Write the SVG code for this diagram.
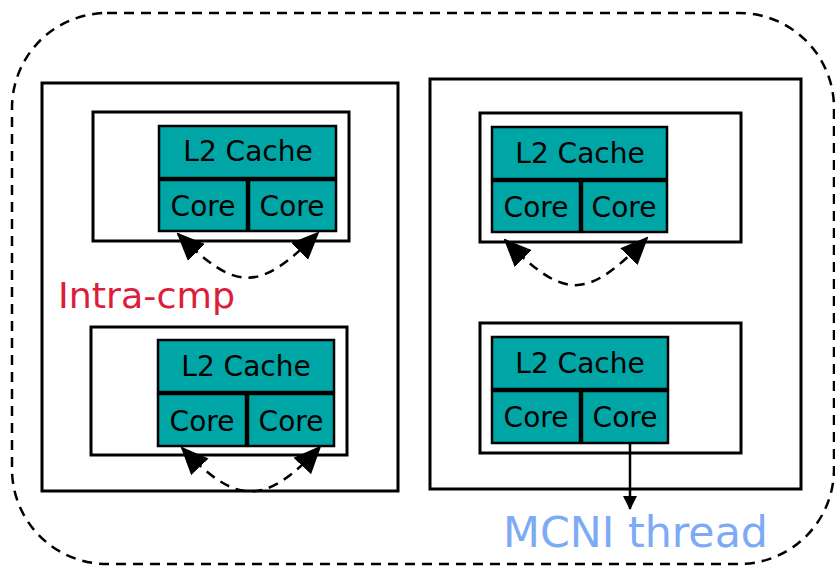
<svg xmlns="http://www.w3.org/2000/svg" width="835" height="566" viewBox="0 0 835 566">
<defs>
<style>
.box{fill:#fff;stroke:#000;stroke-width:3}
.cell{fill:#00a6a6;stroke:#000;stroke-width:2.5}
.lbl{font-family:"DejaVu Sans","Liberation Sans",sans-serif;font-size:28px;fill:#000;text-anchor:middle}
.dash{fill:none;stroke:#000;stroke-width:2.5;stroke-dasharray:10 7}
.conn{fill:none;stroke:#000;stroke-width:2.5}
</style>
<marker id="ah" markerUnits="userSpaceOnUse" markerWidth="28" markerHeight="24" viewBox="0 0 28 24" refX="26" refY="12" orient="auto-start-reverse">
<path d="M0,0 L28,12 L0,24 z" fill="#000"/>
</marker>
<marker id="ahs" markerUnits="userSpaceOnUse" markerWidth="14" markerHeight="14" viewBox="0 0 14 14" refX="13" refY="7" orient="auto">
<path d="M0,0 L14,7 L0,14 z" fill="#000"/>
</marker>
</defs>
<rect id="system" x="12" y="13" width="822" height="551" rx="95" ry="95" class="dash"/>
<g id="node-left">
<rect x="42" y="83" width="356" height="408" class="box"/>
</g>
<g id="node-right">
<rect x="430" y="79" width="371" height="410" class="box"/>
</g>
<g id="cmp-lt">
<rect x="93" y="112" width="256" height="129" class="box"/>
<rect x="159" y="126" width="177" height="52" class="cell"/>
<rect x="159" y="180" width="88" height="51" class="cell"/>
<rect x="249" y="180" width="87" height="51" class="cell"/>
<text x="248" y="161" class="lbl">L2 Cache</text>
<text x="203" y="216" class="lbl">Core</text>
<text x="292" y="216" class="lbl">Core</text>
</g>
<g id="cmp-lb">
<rect x="91" y="327" width="256" height="128" class="box"/>
<rect x="158" y="340" width="176" height="52" class="cell"/>
<rect x="158" y="394" width="88" height="52" class="cell"/>
<rect x="248" y="394" width="86" height="52" class="cell"/>
<text x="246" y="376" class="lbl">L2 Cache</text>
<text x="202" y="431" class="lbl">Core</text>
<text x="291" y="431" class="lbl">Core</text>
</g>
<g id="cmp-rt">
<rect x="480" y="113" width="261" height="129" class="box"/>
<rect x="492" y="127" width="175" height="52" class="cell"/>
<rect x="492" y="181" width="88" height="51" class="cell"/>
<rect x="582" y="181" width="85" height="51" class="cell"/>
<text x="580" y="163" class="lbl">L2 Cache</text>
<text x="536" y="217" class="lbl">Core</text>
<text x="624" y="217" class="lbl">Core</text>
</g>
<g id="cmp-rb">
<rect x="480" y="323" width="261" height="130" class="box"/>
<rect x="492" y="337" width="176" height="52" class="cell"/>
<rect x="492" y="391" width="88" height="52" class="cell"/>
<rect x="582" y="391" width="86" height="52" class="cell"/>
<text x="580" y="373" class="lbl">L2 Cache</text>
<text x="536" y="427" class="lbl">Core</text>
<text x="625" y="427" class="lbl">Core</text>
</g>
<g id="connectors">
<path d="M178,234 C237,293 259,292 318,233" class="dash" marker-start="url(#ah)" marker-end="url(#ah)"/>
<path d="M182,448 C237,506 265,506 320,447" class="dash" marker-start="url(#ah)" marker-end="url(#ah)"/>
<path d="M505,240 C565,301 587,300 647,238" class="dash" marker-start="url(#ah)" marker-end="url(#ah)"/>
<path d="M630,443 L630,509" class="conn" marker-end="url(#ahs)"/>
</g>
<text x="58" y="308" font-family="DejaVu Sans, sans-serif" font-size="35" fill="#dc1e3c" textLength="177" lengthAdjust="spacingAndGlyphs">Intra-cmp</text>
<text x="503" y="547" font-family="DejaVu Sans, sans-serif" font-size="42" fill="#7daaf7" textLength="265" lengthAdjust="spacingAndGlyphs">MCNI thread</text>
</svg>
